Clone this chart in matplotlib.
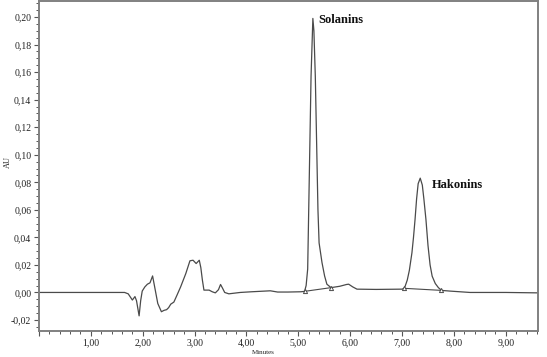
import matplotlib
matplotlib.use("Agg")
import matplotlib.pyplot as plt
from matplotlib.ticker import MultipleLocator, FuncFormatter

# chromatogram trace (minutes, AU)
minutes = [0.00, 1.65, 1.72, 1.80, 1.85, 1.88, 1.93, 1.96, 1.99, 2.04,
           2.09, 2.14, 2.19, 2.23, 2.29, 2.36, 2.41, 2.46, 2.50, 2.54,
           2.60, 2.66, 2.73, 2.83, 2.91, 2.97, 3.03, 3.09, 3.12, 3.15,
           3.18, 3.28, 3.34, 3.40, 3.46, 3.50, 3.54, 3.58, 3.66, 3.88,
           4.10, 4.46, 4.60, 4.80, 5.05, 5.12, 5.15, 5.18, 5.20, 5.245,
           5.28, 5.30, 5.327, 5.378, 5.40, 5.456, 5.506, 5.55, 5.63, 5.80,
           5.93, 5.97, 6.05, 6.13, 6.50, 7.00, 7.04, 7.06, 7.10, 7.14,
           7.19, 7.22, 7.25, 7.28, 7.31, 7.35, 7.39, 7.42, 7.46, 7.50,
           7.54, 7.58, 7.64, 7.70, 7.76, 7.92, 8.31, 9.00, 9.62]
absorb = [0.0, 0.0, -0.001, -0.0055, -0.003, -0.006, -0.017, -0.006, 0.001, 0.004,
          0.006, 0.007, 0.012, 0.004, -0.008, -0.014, -0.013, -0.0125, -0.011, -0.0085,
          -0.007, -0.002, 0.004, 0.0137, 0.023, 0.0234, 0.021, 0.0234, 0.018, 0.009,
          0.0017, 0.0017, 0.0005, -0.0003, 0.002, 0.0058, 0.003, 0.0, -0.001, 0.0,
          0.0005, 0.0012, 0.0003, 0.0003, 0.0005, 0.0008, 0.005, 0.017, 0.060, 0.157,
          0.199, 0.19, 0.157, 0.060, 0.036, 0.0217, 0.012, 0.006, 0.0035, 0.0045,
          0.0058, 0.006, 0.004, 0.0024, 0.0022, 0.0024, 0.003, 0.0046, 0.009, 0.016,
          0.0288, 0.040, 0.053, 0.068, 0.079, 0.083, 0.078, 0.068, 0.053, 0.034,
          0.020, 0.0118, 0.0065, 0.0035, 0.0015, 0.001, 0.0, 0.0, -0.0003]

# integration start/end marks
base_solanin_t = [5.12, 5.63]
base_solanin_v = [0.0008, 0.0035]
base_hakonin_t = [7.04, 7.76]
base_hakonin_v = [0.003, 0.0015]

peak_names = ["Solanins", "Hakonins"]
peak_label_t = [5.39, 7.57]
peak_label_v = [0.1975, 0.078]

serif = "Liberation Serif"
line_col = "#4a4a4a"

fig = plt.figure(figsize=(5.47, 3.57), dpi=100)
ax = fig.add_axes([0.0713, 0.0728, 0.9122, 0.9242])

ax.plot(minutes, absorb, color=line_col, lw=0.9)
for bt, bv in [(base_solanin_t, base_solanin_v), (base_hakonin_t, base_hakonin_v)]:
    ax.plot(bt, bv, color=line_col, lw=0.8)
    ax.plot(bt, bv, ls="none", marker="^", ms=3, mfc="white", mec=line_col, mew=0.7)

for name, t, v in zip(peak_names, peak_label_t, peak_label_v):
    ax.text(t, v, name, family=serif, fontweight="bold", fontsize=9,
            ha="left", va="center", color="#111111")

ax.set_xlim(0, 9.62)
ax.set_ylim(-0.028, 0.2116)
ax.xaxis.set_major_locator(MultipleLocator(1))
ax.xaxis.set_minor_locator(MultipleLocator(0.2))
ax.yaxis.set_major_locator(MultipleLocator(0.02))
ax.yaxis.set_minor_locator(MultipleLocator(0.005))

ax.xaxis.set_major_formatter(FuncFormatter(lambda x, p: "" if abs(x) < 1e-9 else f"{x:.2f}".replace(".", ",")))
ax.yaxis.set_major_formatter(FuncFormatter(lambda y, p: f"{y:.2f}".replace(".", ",").replace("-0,00", "0,00")))

for s in ax.spines.values():
    s.set_color("#808080")
    s.set_linewidth(1.4)

ax.tick_params(which="major", length=3.5, width=0.8, color="#555555", labelsize=7, pad=2)
ax.tick_params(which="minor", length=2, width=0.7, color="#555555")
for lab in ax.get_xticklabels() + ax.get_yticklabels():
    lab.set_family(serif)
    lab.set_color("#222222")

fig.text(263 / 547, 1 - 352 / 357, "Minutes", family=serif, fontsize=5, ha="center", va="center", color="#222222")
fig.text(8 / 547, 1 - 162 / 357, "AU", family=serif, fontsize=6, rotation=90, ha="center", va="center", color="#222222")

fig.savefig("out.png", dpi=100)
